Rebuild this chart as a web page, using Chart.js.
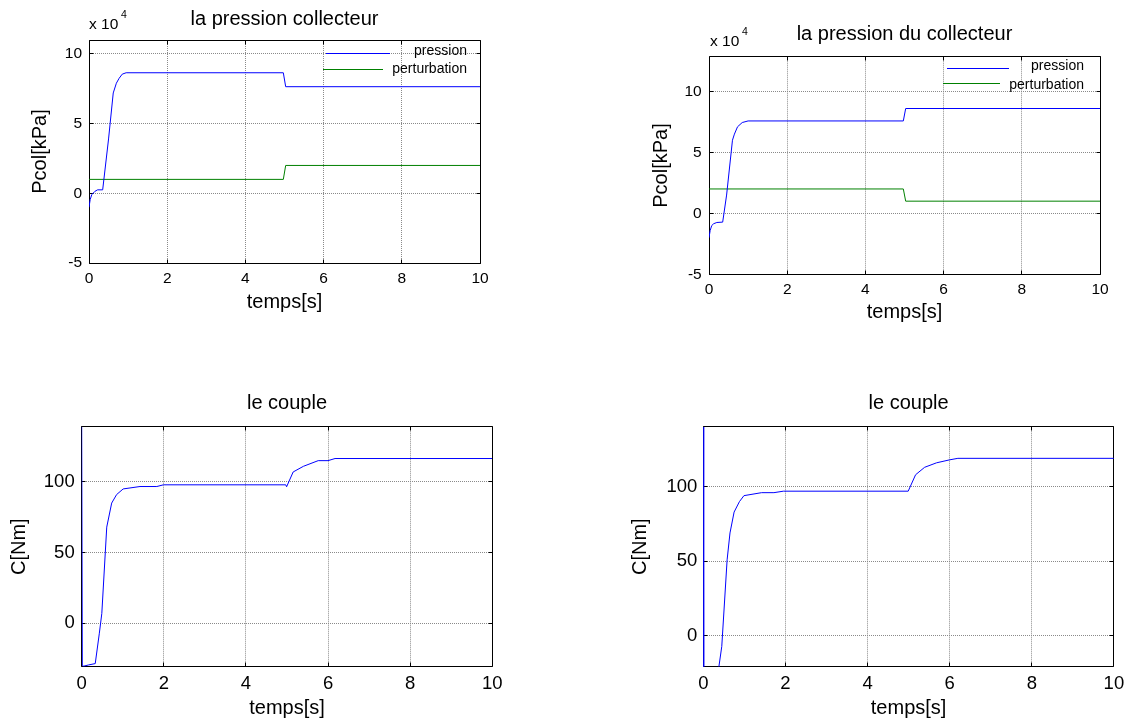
<!DOCTYPE html>
<html>
<head>
<meta charset="utf-8">
<script src="https://cdn.jsdelivr.net/npm/chart.js@4/dist/chart.umd.min.js"></script>
<style>
  html, body { margin: 0; padding: 0; background: #fff; }
  #wrap { position: relative; width: 1130px; height: 724px; overflow: hidden; background: #fff; }
  #wrap canvas { position: absolute; }
  #c1 { left: 0; top: 0; }
  #c2 { left: 565px; top: 0; }
  #c3 { left: 0; top: 362px; }
  #c4 { left: 565px; top: 362px; }
</style>
</head>
<body>
<div id="wrap">
  <canvas id="c1" width="565" height="362"></canvas>
  <canvas id="c2" width="565" height="362"></canvas>
  <canvas id="c3" width="565" height="362"></canvas>
  <canvas id="c4" width="565" height="362"></canvas>
</div>
<script>
// ---------------- DATA ----------------
const xTicks = [0, 2, 4, 6, 8, 10];
const pressTicks = [-5, 0, 5, 10];     // in units of x 10^4
const coupleTicks = [0, 50, 100];

// Plot 1 : la pression collecteur (values x 10^4 kPa)
const t1Pression = [0, 0.03, 0.07, 0.15, 0.22, 0.35, 0.5, 0.62, 0.7, 0.77, 0.85, 0.95, 4.97, 5.03, 10];
const v1Pression = [-1.0, -0.45, -0.1, 0.14, 0.25, 0.25, 3.9, 7.2, 7.9, 8.25, 8.55, 8.65, 8.65, 7.65, 7.65];
const t1Perturb = [0, 4.97, 5.03, 10];
const v1Perturb = [1, 1, 2, 2];

// Plot 2 : la pression du collecteur (values x 10^4 kPa)
const t2Pression = [0, 0.03, 0.07, 0.12, 0.2, 0.35, 0.45, 0.6, 0.65, 0.73, 0.85, 1.0, 4.97, 5.03, 10];
const v2Pression = [-2.0, -1.4, -1.0, -0.85, -0.75, -0.72, 1.5, 6.0, 6.5, 7.1, 7.45, 7.58, 7.58, 8.6, 8.6];
const t2Perturb = [0, 4.97, 5.03, 10];
const v2Perturb = [2, 2, 1, 1];

// Plot 3 : le couple (Nm)
const t3Couple = [0, 0.015, 0.05, 0.16, 0.33, 0.43, 0.49, 0.61, 0.73, 0.85, 1.01, 1.42, 1.83, 1.99, 4.97, 4.99, 5.15, 5.4, 5.76, 6.0, 6.17, 10];
const v3Couple = [139, -30, -30.3, -29.5, -28.5, -7, 7, 68, 85, 91, 95, 96.7, 96.7, 97.9, 97.9, 96.5, 107, 111, 115, 115, 116.5, 116.5];

// Plot 4 : le couple (Nm)
const t4Couple = [0, 0.01, 0.3, 0.38, 0.45, 0.58, 0.65, 0.75, 0.88, 0.99, 1.42, 1.72, 1.95, 4.99, 5.17, 5.39, 5.68, 6.0, 6.2, 10];
const v4Couple = [140, -45, -45, -20.6, -7, 51, 69, 83, 90, 94, 96, 96, 97, 97, 108, 113, 116, 118, 119, 119];

// ---------------- STYLE / LAYOUT ----------------
const FONT = "'Liberation Sans', Arial, Helvetica, sans-serif";
const BLUE = '#0000ff';
const GREEN = '#008000';
const GRID = '#8a8a8a';
const CW = 565, CH = 362;   // size of each sub-canvas

function pts(t, v) { return t.map((x, i) => ({ x: x, y: v[i] })); }

function align(p, w) { const hw = w / 2; return Math.round(p - hw) + hw; }

function makeFramePlugin(s) {
  return {
    id: 'frame',
    beforeDatasetsDraw(chart) {
      const ctx = chart.ctx, a = chart.chartArea;
      const xs = chart.scales.x, ys = chart.scales.y;
      const L = align(a.left, 1), R = align(a.right, 1), T = align(a.top, 1), B = align(a.bottom, 1);
      ctx.save();
      ctx.strokeStyle = '#000';
      ctx.lineWidth = 1;
      ctx.setLineDash([]);
      ctx.beginPath();
      ctx.rect(L, T, R - L, B - T);
      const tl = 4;
      xs.ticks.forEach(tk => {
        const px = align(xs.getPixelForValue(tk.value), 1);
        ctx.moveTo(px, B); ctx.lineTo(px, B - tl);
        ctx.moveTo(px, T); ctx.lineTo(px, T + tl);
      });
      ys.ticks.forEach(tk => {
        const py = align(ys.getPixelForValue(tk.value), 1);
        ctx.moveTo(L, py); ctx.lineTo(L + tl, py);
        ctx.moveTo(R, py); ctx.lineTo(R - tl, py);
      });
      ctx.stroke();
      ctx.restore();
    },
    afterDraw(chart) {
      const ctx = chart.ctx, a = chart.chartArea;
      ctx.save();
      if (s.exponent) {
        ctx.fillStyle = '#000';
        ctx.font = '15.5px ' + FONT;
        ctx.textAlign = 'left';
        ctx.textBaseline = 'alphabetic';
        const base = 'x 10';
        const x0 = a.left + s.exponent.dx;
        ctx.fillText(base, x0, a.top - 10.7);
        const wBase = ctx.measureText(base).width;
        ctx.font = '10.5px ' + FONT;
        ctx.fillText(s.exponent.power, x0 + wBase + 2.6, a.top - 22);
      }
      if (s.legend) {
        s.legend.forEach(it => {
          const row = Math.round(a.top + it.ly - 0.5);
          const xa = Math.round(a.right - it.x1), xb = Math.round(a.right - it.x2);
          ctx.fillStyle = it.color;
          ctx.fillRect(xa, row, xb - xa, 1);
          ctx.font = '14px ' + FONT;
          ctx.textAlign = 'right';
          ctx.textBaseline = 'alphabetic';
          ctx.fillStyle = '#000';
          ctx.fillText(it.text, a.right - it.tx, a.top + it.ty);
        });
      }
      ctx.restore();
    }
  };
}

// s holds page coordinates; ox/oy = canvas offset on the page
function makeChart(id, ox, oy, s) {
  const lhTitle = 20 * 1.2;
  const L = s.L - ox, T = s.T - oy, R = s.R - ox, B = s.B - oy;
  const titleMid = s.titleMid - oy, ytMid = s.ytMid - ox, xtMid = s.xtMid - oy;
  return new Chart(document.getElementById(id), {
    type: 'line',
    data: { datasets: s.datasets.map(d => ({
      data: d.data,
      borderColor: d.color,
      backgroundColor: d.color,
      borderWidth: 1,
      pointRadius: 0,
      tension: 0,
      fill: false
    })) },
    options: {
      responsive: false,
      animation: false,
      events: [],
      devicePixelRatio: 1,
      layout: { padding: { left: 0, top: 0, right: CW - R, bottom: 0 } },
      plugins: {
        legend: { display: false },
        tooltip: { enabled: false },
        title: {
          display: true,
          text: s.title,
          color: '#000',
          fullSize: false,
          font: { family: FONT, size: 20, weight: 'normal', lineHeight: 1.2 },
          padding: { top: titleMid - lhTitle / 2, bottom: T - titleMid - lhTitle / 2 }
        }
      },
      scales: {
        x: {
          type: 'linear',
          min: 0, max: 10,
          afterBuildTicks: sc => { sc.ticks = xTicks.map(v => ({ value: v })); },
          afterFit: sc => { sc.height = CH - B; },
          ticks: {
            color: '#000', autoSkip: false, maxRotation: 0,
            font: { family: FONT, size: s.tickSize, lineHeight: 1.2 },
            padding: s.xTickPad,
            callback: v => String(v)
          },
          grid: { color: GRID, lineWidth: 1, drawTicks: false },
          border: { display: false, dash: [1, 1] },
          title: {
            display: true, text: 'temps[s]', color: '#000',
            font: { family: FONT, size: 20, lineHeight: 1.2 },
            padding: { top: 0, bottom: CH - lhTitle / 2 - xtMid }
          }
        },
        y: {
          type: 'linear',
          min: s.ymin, max: s.ymax,
          afterBuildTicks: sc => { sc.ticks = s.yTicks.map(v => ({ value: v })); },
          afterFit: sc => { sc.width = L; },
          ticks: {
            color: '#000', autoSkip: false,
            font: { family: FONT, size: s.tickSize, lineHeight: 1.2 },
            padding: s.yTickPad,
            callback: v => String(v)
          },
          grid: { color: GRID, lineWidth: 1, drawTicks: false },
          border: { display: false, dash: [1, 1] },
          title: {
            display: true, text: s.ytitle, color: '#000',
            font: { family: FONT, size: 20, lineHeight: 1.2 },
            padding: { top: ytMid - lhTitle / 2, bottom: 0 }
          }
        }
      }
    },
    plugins: [makeFramePlugin(s)]
  });
}

// Plot 1
makeChart('c1', 0, 0, {
  L: 89, T: 40, R: 480, B: 263,
  ymin: -5, ymax: 11, yTicks: pressTicks,
  title: 'la pression collecteur', titleMid: 19.1,
  ytitle: 'Pcol[kPa]', ytMid: 40.5, xtMid: 302.6,
  tickSize: 15.5, xTickPad: 6.6, yTickPad: 7,
  exponent: { power: '4', dx: 0 },
  legend: [
    { text: 'pression', color: BLUE, x1: 154, x2: 90, ly: 13.3, tx: 13, ty: 15 },
    { text: 'perturbation', color: GREEN, x1: 157, x2: 97, ly: 29, tx: 13, ty: 32.7 }
  ],
  datasets: [
    { data: pts(t1Pression, v1Pression), color: BLUE },
    { data: pts(t1Perturb, v1Perturb), color: GREEN }
  ]
});

// Plot 2
makeChart('c2', 565, 0, {
  L: 709, T: 56.7, R: 1100, B: 274.3,
  ymin: -5, ymax: 12.85, yTicks: pressTicks,
  title: 'la pression du collecteur', titleMid: 34.8,
  ytitle: 'Pcol[kPa]', ytMid: 661, xtMid: 312.2,
  tickSize: 15.5, xTickPad: 6.0, yTickPad: 7.3,
  exponent: { power: '4', dx: 1 },
  legend: [
    { text: 'pression', color: BLUE, x1: 153.3, x2: 91, ly: 11.6, tx: 16, ty: 12.8 },
    { text: 'perturbation', color: GREEN, x1: 157, x2: 100, ly: 26.6, tx: 16, ty: 31.8 }
  ],
  datasets: [
    { data: pts(t2Pression, v2Pression), color: BLUE },
    { data: pts(t2Perturb, v2Perturb), color: GREEN }
  ]
});

// Plot 3
makeChart('c3', 0, 362, {
  L: 81.7, T: 426.7, R: 492.3, B: 666.7,
  ymin: -30.7, ymax: 139, yTicks: coupleTicks,
  title: 'le couple', titleMid: 403.1,
  ytitle: 'C[Nm]', ytMid: 19.6, xtMid: 708.9,
  tickSize: 18.5, xTickPad: 5.8, yTickPad: 7,
  datasets: [ { data: pts(t3Couple, v3Couple), color: BLUE } ]
});

// Plot 4
makeChart('c4', 565, 362, {
  L: 703.3, T: 426.7, R: 1114.3, B: 666.7,
  ymin: -20.6, ymax: 140.2, yTicks: coupleTicks,
  title: 'le couple', titleMid: 403.1,
  ytitle: 'C[Nm]', ytMid: 640.6, xtMid: 708.9,
  tickSize: 18.5, xTickPad: 5.8, yTickPad: 6,
  datasets: [ { data: pts(t4Couple, v4Couple), color: BLUE } ]
});
</script>
</body>
</html>
